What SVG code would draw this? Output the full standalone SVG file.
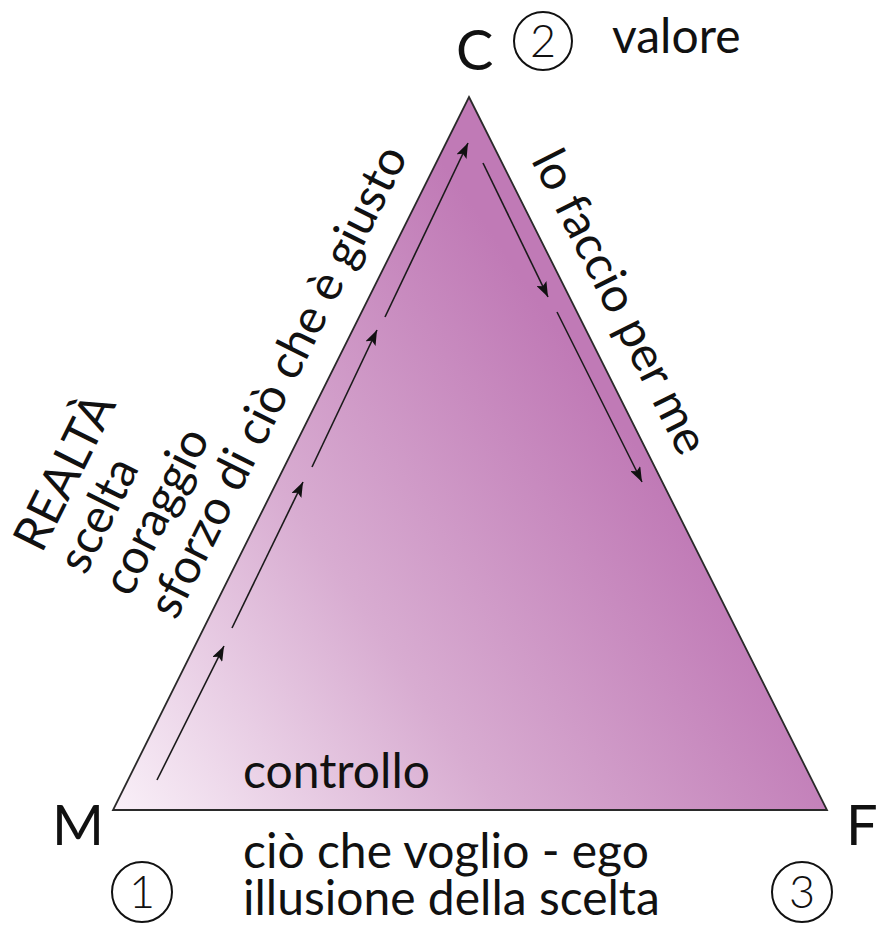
<svg xmlns="http://www.w3.org/2000/svg" width="878" height="932" viewBox="0 0 878 932">
  <style>
    text { font-family: Lato, "Liberation Sans", sans-serif; fill: #111; }
    .lbl { font-size: 48px; }
    .vtx { font-size: 56px; }
    .num { font-size: 45px; text-anchor: middle; font-weight: 300; }
    .ring { fill: none; stroke: #111; stroke-width: 2; }
    .arr { stroke: #1a1a1a; stroke-width: 1.6; fill: none; marker-end: url(#ah); }
  </style>
  <defs>
    <linearGradient id="g" gradientUnits="userSpaceOnUse" x1="113" y1="810" x2="640" y2="450">
      <stop offset="0" stop-color="#f9f0f8"/>
      <stop offset="0.5" stop-color="#d8acd1"/>
      <stop offset="1" stop-color="#c07ab6"/>
    </linearGradient>
    <marker id="ah" viewBox="0 0 15 11" refX="15" refY="5.5" markerWidth="15" markerHeight="11" markerUnits="userSpaceOnUse" orient="auto">
      <path d="M0,0 L15,5.5 L0,11 L3,5.5 Z" fill="#111"/>
    </marker>
  </defs>

  <g id="triangle">
    <polygon points="469,97 827,810 113,810" fill="url(#g)" stroke="#2a2a2a" stroke-width="1.8" stroke-linejoin="miter"/>
  </g>

  <g id="connectors">
    <line class="arr" x1="157" y1="780" x2="224" y2="646"/>
    <line class="arr" x1="232" y1="628" x2="303" y2="482"/>
    <line class="arr" x1="312" y1="467" x2="377" y2="330"/>
    <line class="arr" x1="385" y1="317" x2="468" y2="143"/>
    <line class="arr" x1="483" y1="163" x2="548" y2="297"/>
    <line class="arr" x1="557" y1="312" x2="642" y2="482"/>
  </g>

  <g id="node-C">
    <text class="vtx" x="456" y="70">C</text>
    <circle class="ring" cx="543" cy="41" r="29"/>
    <text class="num" x="543" y="57">2</text>
    <text class="lbl" x="612" y="53">valore</text>
  </g>

  <g id="node-M">
    <text class="vtx" x="52" y="845">M</text>
    <circle class="ring" cx="142" cy="892" r="30"/>
    <text class="num" x="142" y="908">1</text>
  </g>

  <g id="node-F">
    <text class="vtx" x="846" y="845">F</text>
    <circle class="ring" cx="802" cy="892" r="30"/>
    <text class="num" x="802" y="908">3</text>
  </g>

  <g id="left-side-labels">
    <text class="lbl" transform="translate(176,621.3) rotate(-63.47)">sforzo di ciò che è giusto</text>
    <text class="lbl" transform="translate(130.3,598.5) rotate(-63.47)">coraggio</text>
    <text class="lbl" transform="translate(85.6,576.2) rotate(-63.47)">scelta</text>
    <text class="lbl" transform="translate(41.8,554.3) rotate(-63.47)">REALTÀ</text>
  </g>

  <g id="right-side-label">
    <text class="lbl" transform="translate(530.8,160) rotate(63.34)">lo faccio per me</text>
  </g>

  <g id="bottom-labels">
    <text class="lbl" x="243" y="788">controllo</text>
    <text class="lbl" x="243" y="868">ciò che voglio - ego</text>
    <text class="lbl" x="243" y="915">illusione della scelta</text>
  </g>
</svg>
